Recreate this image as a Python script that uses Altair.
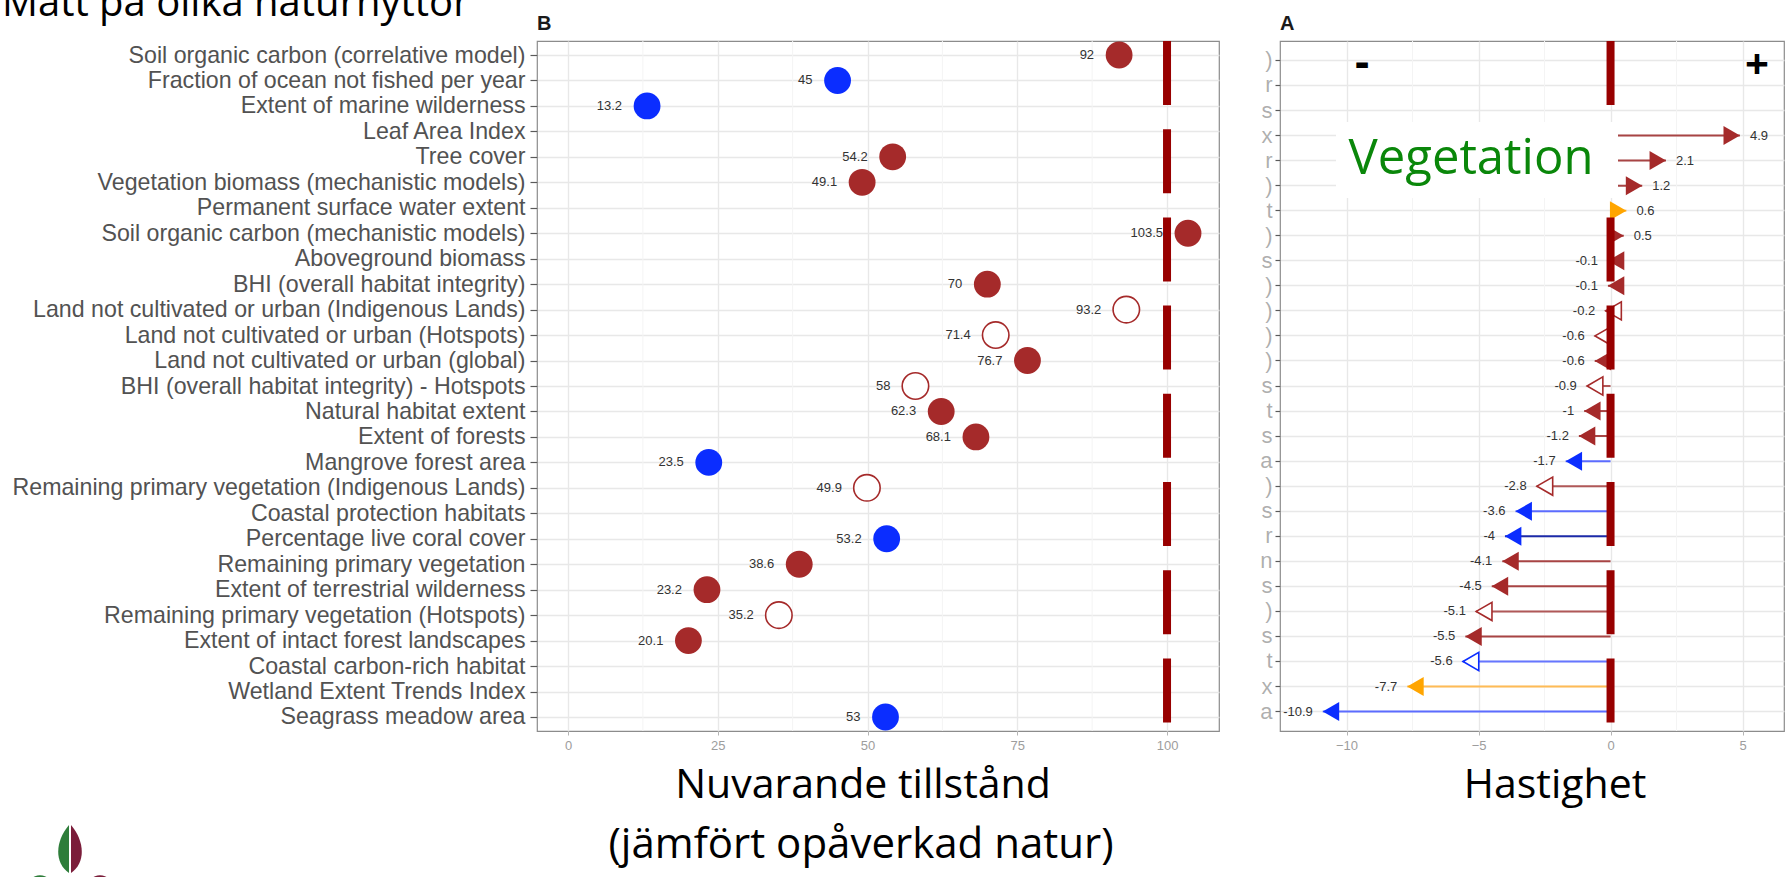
import altair as alt
import pandas as pd

# ---------------- data ----------------
labels = [
    "Soil organic carbon (correlative model)",
    "Fraction of ocean not fished per year",
    "Extent of marine wilderness",
    "Leaf Area Index",
    "Tree cover",
    "Vegetation biomass (mechanistic models)",
    "Permanent surface water extent",
    "Soil organic carbon (mechanistic models)",
    "Aboveground biomass",
    "BHI (overall habitat integrity)",
    "Land not cultivated or urban (Indigenous Lands)",
    "Land not cultivated or urban (Hotspots)",
    "Land not cultivated or urban (global)",
    "BHI (overall habitat integrity) - Hotspots",
    "Natural habitat extent",
    "Extent of forests",
    "Mangrove forest area",
    "Remaining primary vegetation (Indigenous Lands)",
    "Coastal protection habitats",
    "Percentage live coral cover",
    "Remaining primary vegetation",
    "Extent of terrestrial wilderness",
    "Remaining primary vegetation (Hotspots)",
    "Extent of intact forest landscapes",
    "Coastal carbon-rich habitat",
    "Wetland Extent Trends Index",
    "Seagrass meadow area",
]
state_values = [92, 45, 13.2, None, 54.2, 49.1, None, 103.5, None, 70, 93.2, 71.4,
                76.7, 58, 62.3, 68.1, 23.5, 49.9, None, 53.2, 38.6, 23.2, 35.2, 20.1,
                None, None, 53]
state_kind = ["land", "marine", "marine", None, "land", "land", None, "land", None,
              "land", "open", "open", "land", "open", "land", "land", "marine", "open",
              None, "marine", "land", "land", "open", "land", None, None, "marine"]
rate_values = [None, None, None, 4.9, 2.1, 1.2, 0.6, 0.5, -0.1, -0.1, -0.2, -0.6, -0.6,
               -0.9, -1, -1.2, -1.7, -2.8, -3.6, -4, -4.1, -4.5, -5.1, -5.5, -5.6, -7.7,
               -10.9]
rate_kind = [None, None, None, "land", "land", "land", "water", "land", "land", "land",
             "open", "open", "land", "open", "land", "land", "marine", "open", "marine",
             "marine_dark", "land", "land", "open", "land", "open_marine", "water",
             "marine"]
state_ticks = [0, 25, 50, 75, 100]
state_minor = [12.5, 37.5, 62.5, 87.5]
rate_ticks = [-10, -5, 0, 5]
rate_minor = [-7.5, -2.5, 2.5]
state_reference = [100]
rate_reference = [0]

# ---------------- styles ----------------
BROWN = "#a52a2a"
BLUE = "#0b2dff"
ORANGE = "#ffa500"
DARKRED = "#980000"
marker_color = {"land": BROWN, "marine": BLUE, "water": ORANGE, "marine_dark": BLUE,
                "open": BROWN, "open_marine": BLUE}
line_color = {"land": "#a84444", "marine": "#5c6cff", "water": "#ffbb55",
              "marine_dark": "#1c2aa8", "open": "#b05858", "open_marine": "#6676ff"}
LABEL_FONT = "Liberation Sans"
SLIDE_FONT = "Open Sans"

W_L, W_R, H = 682, 504, 690


def fmt(v):
    return f"{v:g}"


state_df = pd.DataFrame({"label": labels, "state": state_values, "kind": state_kind})
state_df = state_df.dropna(subset=["state"])
state_df["txt"] = state_df["state"].map(fmt)
state_df["col"] = state_df["kind"].map(marker_color)

rate_df = pd.DataFrame({"label": labels, "rate": rate_values, "kind": rate_kind})
rate_df = rate_df.dropna(subset=["rate"])
rate_df["txt"] = rate_df["rate"].map(fmt)
rate_df["col"] = rate_df["kind"].map(marker_color)
rate_df["lcol"] = rate_df["kind"].map(line_color)
rate_df["is_open"] = rate_df["kind"].str.startswith("open")

# ---------------- shared encodings ----------------
yscale = alt.Scale(domain=labels, padding=0.55)
y_left = alt.Y("label:N", sort=labels, scale=yscale, title=None,
               axis=alt.Axis(labelFont=LABEL_FONT, labelFontSize=23.2, labelColor="#525252",
                             labelPadding=5, labelLimit=1000, tickSize=7, tickColor="#5a5a5a",
                             tickWidth=1.2, domain=False, grid=True, gridColor="#e8e8e8",
                             gridWidth=1.4))
y_right = alt.Y("label:N", sort=labels, scale=yscale, title=None,
                axis=alt.Axis(labelFont=LABEL_FONT, labelFontSize=22, labelColor="#6a6a6a",
                              labelOpacity=0.55, labelPadding=3,
                              labelExpr="slice(datum.label, -1)",
                              tickSize=5, tickColor="#5a5a5a", tickWidth=1.2, domain=False,
                              grid=True, gridColor="#e8e8e8", gridWidth=1.4))

x_axis_common = dict(labelFont=LABEL_FONT, labelFontSize=13, labelColor="#9d9d9d",
                     labelPadding=4, tickSize=4, tickColor="#b5b5b5", domain=False,
                     grid=True, gridColor="#e8e8e8", gridWidth=1.4, title=None)
x_left = alt.X("state:Q", scale=alt.Scale(domain=[-5.175, 108.675], nice=False, zero=False),
               axis=alt.Axis(values=state_ticks, **x_axis_common), title=None)
x_right = alt.X("rate:Q", scale=alt.Scale(domain=[-12.52, 6.57], nice=False, zero=False),
                axis=alt.Axis(values=rate_ticks, **x_axis_common), title=None)


def deco_text(txt, x, y, size, font=SLIDE_FONT, color="black", weight="normal",
              align="center", baseline="alphabetic"):
    return alt.Chart(pd.DataFrame({"t": [txt]})).mark_text(
        font=font, fontSize=size, color=color, fontWeight=weight, align=align,
        baseline=baseline).encode(x=alt.value(x), y=alt.value(y), text="t:N")


def deco_shape(path, x, y, size, color, filled=True, stroke_width=1):
    return alt.Chart(pd.DataFrame({"t": [1]})).mark_point(
        shape=path, size=size, filled=filled, color=color, opacity=1,
        strokeWidth=stroke_width).encode(x=alt.value(x), y=alt.value(y))


# ---------------- left panel ----------------
minor_l = alt.Chart(pd.DataFrame({"state": state_minor})).mark_rule(
    color="#f4f4f4", strokeWidth=1).encode(x=x_left, y=alt.value(0), y2=alt.value(H))
ref_l = alt.Chart(pd.DataFrame({"state": state_reference})).mark_rule(
    color=DARKRED, strokeWidth=8, strokeDash=[64, 24.2], strokeCap="butt").encode(
    x=x_left, y=alt.value(0), y2=alt.value(H))
base_l = alt.Chart(state_df)
filled_l = base_l.transform_filter("datum.kind != 'open'").mark_circle(
    size=720, opacity=1).encode(x=x_left, y=y_left, color=alt.Color("col:N", scale=None))
open_l = base_l.transform_filter("datum.kind == 'open'").mark_point(
    shape="circle", size=700, filled=True, fill="white", strokeWidth=1.6, opacity=1).encode(
    x=x_left, y=y_left, stroke=alt.Stroke("col:N", scale=None))
text_l = base_l.mark_text(align="right", dx=-25, font=LABEL_FONT, fontSize=13,
                          color="#333333").encode(x=x_left, y=y_left, text="txt:N")

left = alt.layer(
    minor_l, ref_l, text_l, filled_l, open_l,
    deco_text("B", 0, -11, 20, font=LABEL_FONT, color="#1a1a1a", weight="bold", align="left"),
    deco_text("Mått på olika naturnyttor", -535, -25, 40, align="left"),
    deco_text("Nuvarande tillstånd", 326, 757, 41),
    deco_text("(jämfört opåverkad natur)", 324, 817, 42),
    deco_shape("M0,-1 C-0.6,-0.3 -0.6,0.6 0,1 Z", -468, 808, 2300, "#2e7d3a"),
    deco_shape("M0,-1 C0.6,-0.3 0.6,0.6 0,1 Z", -466, 808, 2300, "#7b1d3a"),
    deco_shape("circle", -497, 847, 420, "#2e7d3a", filled=False, stroke_width=5),
    deco_shape("circle", -437, 847, 420, "#7b1d3a", filled=False, stroke_width=5),
).properties(width=W_L, height=H)

# ---------------- right panel ----------------
minor_r = alt.Chart(pd.DataFrame({"rate": rate_minor})).mark_rule(
    color="#f4f4f4", strokeWidth=1).encode(x=x_right, y=alt.value(0), y2=alt.value(H))
ref_r = alt.Chart(pd.DataFrame({"rate": rate_reference})).mark_rule(
    color=DARKRED, strokeWidth=8, strokeDash=[64, 24.2], strokeCap="butt").encode(
    x=x_right, y=alt.value(0), y2=alt.value(H))
base_r = alt.Chart(rate_df)
lines_r = base_r.mark_rule(strokeWidth=2).encode(
    x=x_right, x2=alt.datum(0), y=y_right, color=alt.Color("lcol:N", scale=None))
tri_pos = base_r.transform_filter("datum.rate > 0").mark_point(
    shape="triangle-right", size=361, filled=True, opacity=1, xOffset=-8.2).encode(
    x=x_right, y=y_right, color=alt.Color("col:N", scale=None))
tri_neg = base_r.transform_filter("datum.rate < 0 && !datum.is_open").mark_point(
    shape="triangle-left", size=361, filled=True, opacity=1, xOffset=8.2).encode(
    x=x_right, y=y_right, color=alt.Color("col:N", scale=None))
tri_open = base_r.transform_filter("datum.rate < 0 && datum.is_open").mark_point(
    shape="triangle-left", size=330, filled=True, fill="white", strokeWidth=1.6, opacity=1,
    xOffset=8.2).encode(x=x_right, y=y_right, stroke=alt.Stroke("col:N", scale=None))
txt_pos = base_r.transform_filter("datum.rate > 0").mark_text(
    align="left", dx=10, font=LABEL_FONT, fontSize=13, color="#333333").encode(
    x=x_right, y=y_right, text="txt:N")
txt_neg = base_r.transform_filter("datum.rate < 0").mark_text(
    align="right", dx=-10, font=LABEL_FONT, fontSize=13, color="#333333").encode(
    x=x_right, y=y_right, text="txt:N")
white_box = alt.Chart(pd.DataFrame({"t": [1]})).mark_rect(color="white", opacity=1).encode(
    x=alt.value(56), x2=alt.value(338), y=alt.value(81), y2=alt.value(157))

right = alt.layer(
    minor_r, lines_r, tri_pos, tri_neg, tri_open, ref_r, txt_pos, txt_neg, white_box,
    deco_text("Vegetation", 191, 133, 49, color="#0a870a"),
    deco_text("-", 82, 36, 44, weight="bold"),
    deco_text("+", 477, 38, 42, weight="bold"),
    deco_text("A", 0, -11, 20, font=LABEL_FONT, color="#1a1a1a", weight="bold", align="left"),
    deco_text("Hastighet", 275, 757, 41),
).properties(width=W_R, height=H)

chart = alt.hconcat(left, right, spacing=61, bounds="flush").properties(
    autosize=alt.AutoSizeParams(type="none"),
    padding={"left": 537, "top": 41, "right": 1254, "bottom": 836},
    background="white",
).configure_view(stroke="#8c8c8c", strokeWidth=1.2)

chart.save("out.html", embed_options={"renderer": "svg", "actions": False})
